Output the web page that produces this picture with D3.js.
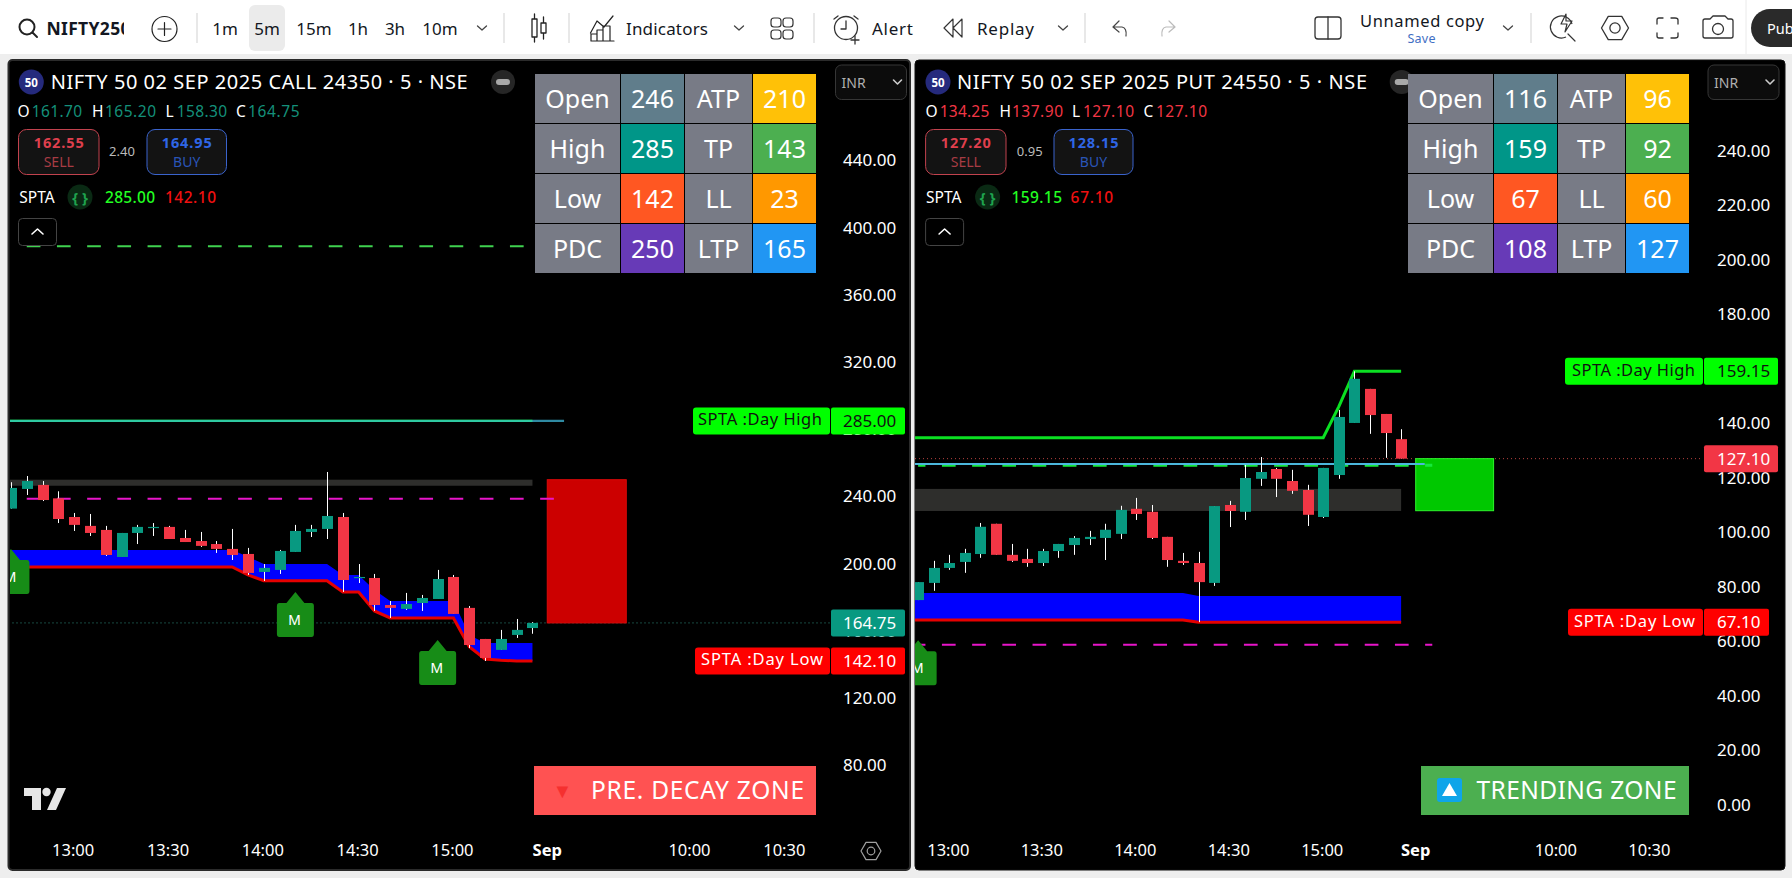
<!DOCTYPE html>
<html><head><meta charset="utf-8">
<script src="https://cdn.jsdelivr.net/npm/d3@7/dist/d3.min.js"></script>
<style>
html,body{margin:0;padding:0;background:#eeeeee;overflow:hidden}
svg{display:block}
text{font-family:"Noto Sans",sans-serif}
.tick line{display:none}
</style></head><body><svg id="c" width="1792" height="878"></svg>
<script>
// ---------- categories ----------
const sessionTimes = ["12:35","12:40","12:45","12:50","12:55","13:00","13:05","13:10","13:15","13:20","13:25","13:30","13:35","13:40","13:45","13:50","13:55","14:00","14:05","14:10","14:15","14:20","14:25","14:30","14:35","14:40","14:45","14:50","14:55","15:00","15:05","15:10","15:15","15:20","15:25"];
const nextDayTimes = ["09:15","09:20","09:25","09:30","09:35","09:40","09:45","09:50","09:55","10:00","10:05","10:10","10:15","10:20","10:25","10:30"];
const timeTicks = ["13:00","13:30","14:00","14:30","15:00","09:15","10:00","10:30"];
const timeTickLabels = ["13:00","13:30","14:00","14:30","15:00","Sep","10:00","10:30"];
const callPriceTicks = [80,120,160,200,240,280,320,360,400,440];
const putPriceTicks = [0,20,40,60,80,100,120,140,180,200,220,240];

// ---------- CALL series (12:40 to 15:25) ----------
const callOpen  = [232.8,244.5,246.9,238.9,227.8,222.5,220.1,204.0,218.3,221.5,221.9,215.3,213.5,211.7,208.8,205.8,195.1,196.3,207.0,218.9,220.7,227.8,191.7,191.5,175.4,173.1,176.6,179.0,192.1,173.7,155.2,148.7,157.6,161.7];
const callHigh  = [248.5,252.2,249.2,243.1,230.2,229.6,222.5,218.3,223.1,224.2,222.5,220.1,218.9,213.5,220.7,209.4,199.8,208.2,223.1,223.1,254.6,230.2,199.8,193.9,177.8,182.6,181.4,196.3,193.3,174.8,155.2,160.6,167.1,165.2];
const callLow   = [232.8,240.9,237.3,224.2,219.5,216.5,204.6,204.0,211.7,216.5,214.7,212.9,210.0,206.4,202.2,193.3,189.7,193.9,207.0,215.9,214.7,183.2,188.5,171.9,167.7,172.5,171.9,179.0,170.1,149.8,142.1,148.7,155.8,158.3];
const callClose = [245.1,249.2,237.9,226.6,223.1,218.3,205.2,218.3,221.9,221.9,214.7,212.9,210.6,208.8,205.2,194.5,197.5,207.6,219.5,220.7,228.4,190.3,192.1,175.4,173.7,176.0,179.6,190.9,170.1,151.6,143.9,155.2,160.6,164.75];
// bands from 12:35 to 15:25
const callBandTop = [208.2,208.2,208.2,208.2,208.2,208.2,208.2,208.2,208.2,208.2,208.2,208.2,208.2,208.2,208.2,208.2,204.2,199.8,199.8,199.8,199.8,199.8,193.3,193.3,184.4,177.8,177.8,177.8,177.8,177.8,157.6,152.8,152.8,152.8,152.8];
const callDayLow  = [198.1,198.1,198.1,198.1,198.1,198.1,198.1,198.1,198.1,198.1,198.1,198.1,198.1,198.1,198.1,198.1,193.3,189.9,189.9,189.9,189.9,189.9,183.2,183.2,171.9,167.7,167.7,167.7,167.7,167.7,150.6,143.3,142.5,142.1,142.1];
const callLevels = {dayHigh:285, upper:389, lower:238.7, bandHi:250, bandLo:246.4, boxTop:250, boxBottom:164.75, last:164.75, dayLow:142.1};
const callMarkerTimes = ["12:40","14:10","14:55"];
const callMarkerValues = [208.7,183.2,154.6];

// ---------- PUT series (12:50 to 15:25) ----------
const putOpen  = [75.2,81.5,87.0,89.2,92.1,103.2,91.8,90.3,88.8,93.2,95.4,97.6,98.0,99.5,108.7,107.6,98.4,89.6,88.8,81.5,110.1,107.6,119.7,123.3,118.9,115.6,105.7,121.1,140.2,152.7,143.5,134.25];
const putHigh  = [81.8,89.6,91.8,94.0,103.5,103.2,95.8,94.0,94.0,95.8,98.7,100.6,103.2,109.8,112.7,110.1,98.4,92.5,92.9,109.7,111.6,124.8,127.7,123.7,123.0,117.5,123.7,145.0,159.15,152.7,143.5,137.9];
const putLow   = [75.2,78.6,86.3,85.2,90.7,91.8,89.2,87.4,87.7,90.7,91.8,95.4,89.9,97.6,104.6,97.6,87.4,88.1,67.1,80.4,102.0,104.6,117.1,113.0,114.2,102.4,105.3,119.7,140.2,136.2,127.4,127.1];
const putClose = [81.8,87.0,88.8,92.5,102.1,91.8,89.6,88.8,93.2,95.8,98.0,98.4,101.0,108.3,106.8,98.0,89.9,88.8,81.8,109.7,107.9,120.0,122.2,119.7,115.3,106.5,123.7,142.4,156.4,143.1,136.5,127.1];
// bands from 12:45 to 15:25
const putBandTop = [77.8,77.8,77.8,77.8,77.8,77.8,77.8,77.8,77.8,77.8,77.8,77.8,77.8,77.8,77.8,77.8,77.8,77.8,77.8,76.7,76.7,76.7,76.7,76.7,76.7,76.7,76.7,76.7,76.7,76.7,76.7,76.7,76.7];
const putDayLow  = [67.9,67.9,67.9,67.9,67.9,67.9,67.9,67.9,67.9,67.9,67.9,67.9,67.9,67.9,67.9,67.9,67.9,67.9,67.9,67.1,67.1,67.1,67.1,67.1,67.1,67.1,67.1,67.1,67.1,67.1,67.1,67.1,67.1];
const putDayHigh = [134.8,134.8,134.8,134.8,134.8,134.8,134.8,134.8,134.8,134.8,134.8,134.8,134.8,134.8,134.8,134.8,134.8,134.8,134.8,134.8,134.8,134.8,134.8,134.8,134.8,134.8,134.8,134.8,146.2,159.15,159.15,159.15,159.15];
const putLevels = {dayHigh:159.15, upper:125.1, lower:58.8, bandHi:116, bandLo:107.9, boxTop:127.1, boxBottom:108, last:127.1, dayLow:67.1};
const putMarkerTimes = ["12:50"];
const putMarkerValues = [60.5];

// ---------- tables ----------
const tableLabels = [["Open","ATP"],["High","TP"],["Low","LL"],["PDC","LTP"]];
const callTable = [[246,210],[285,143],[142,23],[250,165]];
const putTable  = [[116,96],[159,92],[67,60],[108,127]];
const tableColors = [["#607d8b","#ffc107"],["#009688","#4caf50"],["#ff5722","#ff9800"],["#673ab7","#2196f3"]];

// ---------- drawing ----------
const GREEN="#089981", RED="#f23645";
const svg=d3.select("#c");
function txt(g,x,y,s,o={}){
  const t=g.append("text").attr("x",x).attr("y",y).text(s)
    .attr("font-size",o.size||15).attr("fill",o.fill||"#fff")
    .attr("font-weight",o.weight||400).attr("text-anchor",o.anchor||"start");
  if(o.len) t.attr("textLength",o.len).attr("lengthAdjust","spacing");
  return t;
}
function strokeP(g,d,o={}){
  return g.append("path").attr("d",d).attr("fill",o.fill||"none")
    .attr("stroke",o.stroke||"#222").attr("stroke-width",o.w||1.5)
    .attr("stroke-linecap","round").attr("stroke-linejoin","round");
}
function hexagon(g,cx,cy,r,stroke,w){
  const pts=d3.range(6).map(i=>[cx+r*Math.cos(i*Math.PI/3),cy+r*Math.sin(i*Math.PI/3)]);
  strokeP(g,"M"+pts.join("L")+"Z",{stroke,w});
  g.append("circle").attr("cx",cx).attr("cy",cy).attr("r",r*0.38).attr("fill","none").attr("stroke",stroke).attr("stroke-width",w);
}

// toolbar
const tb=svg.append("g");
tb.append("rect").attr("width",1792).attr("height",54).attr("fill","#fff");
const sep=x=>tb.append("line").attr("x1",x).attr("x2",x).attr("y1",13).attr("y2",43).attr("stroke","#e0e0e0").attr("stroke-width",1.5);
[197,504,569,814,1085,1531].forEach(sep);
tb.append("line").attr("x1",1746).attr("x2",1746).attr("y1",0).attr("y2",54).attr("stroke","#eaeaea");
tb.append("circle").attr("cx",27).attr("cy",27).attr("r",7.5).attr("fill","none").attr("stroke","#222").attr("stroke-width",2);
strokeP(tb,"M32.5 32.5L37 37",{w:2});
tb.append("clipPath").attr("id","symclip").append("rect").attr("x",40).attr("y",0).attr("width",84).attr("height",54);
txt(tb,46.5,35,"NIFTY250",{size:17.5,weight:700,fill:"#131722",len:84}).attr("clip-path","url(#symclip)");
tb.append("circle").attr("cx",164.5).attr("cy",29).attr("r",12.5).attr("fill","none").attr("stroke","#222").attr("stroke-width",1.2);
strokeP(tb,"M164.5 22.5V35.5M158 29H171",{w:1.2});
tb.append("rect").attr("x",249).attr("y",5).attr("width",36).attr("height",46).attr("rx",6).attr("fill","#ebebeb");
[["1m",225],["5m",267],["15m",314],["1h",358],["3h",395],["10m",440]].forEach(d=>txt(tb,d[1],35,d[0],{size:17,anchor:"middle",fill:"#131722"}));
const caret=(x,y,c="#444",s=4.5)=>strokeP(tb,`M${x-s} ${y-2}L${x} ${y+2}L${x+s} ${y-2}`,{stroke:c,w:1.3});
caret(482,28); caret(739,28); caret(1063,28); caret(1508,28);
// candle icon
strokeP(tb,"M532 19h5v18h-5zM534.5 14v5M534.5 37v5M541 23h5v10h-5zM543.5 17v6M543.5 33v6",{w:1.3});
// indicators icon
strokeP(tb,"M590.5 33L597 21L604 27L613 16M591 41V34h6v7zM597 41V30h6v11zM603 41V26h7v15zM591 41H614",{w:1.2});
txt(tb,626,35,"Indicators",{size:17,fill:"#131722",len:82});
// templates
[[771,18],[783,18],[771,30],[783,30]].forEach(d=>tb.append("rect").attr("x",d[0]).attr("y",d[1]).attr("width",10).attr("height",9).attr("rx",3).attr("fill","none").attr("stroke","#333").attr("stroke-width",1.2));
// alert
tb.append("circle").attr("cx",846).attr("cy",28).attr("r",11.5).attr("fill","none").attr("stroke","#333").attr("stroke-width",1.3);
strokeP(tb,"M846 21V29H841M834 19L838 16M858 19L854 16M855 36V44M851 40H859",{w:1.3,stroke:"#333"});
txt(tb,872,35,"Alert",{size:17,fill:"#131722",len:41});
// replay
strokeP(tb,"M953 19L944 28L953 37ZM962 19L953 28L962 37Z",{w:1.2,stroke:"#333"});
txt(tb,977,35,"Replay",{size:17,fill:"#131722",len:57});
// undo redo
strokeP(tb,"M1113 27L1119 21M1113 27L1119 32M1113 27H1122Q1127 28 1126 36",{w:1.2,stroke:"#444"});
strokeP(tb,"M1175 27L1169 21M1175 27L1169 32M1175 27H1166Q1161 28 1162 36",{w:1.2,stroke:"#bbb"});
// layout
tb.append("rect").attr("x",1315).attr("y",17).attr("width",26).attr("height",22).attr("rx",3).attr("fill","none").attr("stroke","#333").attr("stroke-width",1.3);
strokeP(tb,"M1328 17V39",{stroke:"#333",w:1.3});
txt(tb,1360,27,"Unnamed copy",{size:16.5,fill:"#131722",len:124});
txt(tb,1421.5,43,"Save",{size:12.5,fill:"#3f6fc4",anchor:"middle",len:28});
// lightning + magnifier
tb.append("path").attr("d","M1572 24A11 11 0 1 0 1566 37").attr("fill","none").attr("stroke","#333").attr("stroke-width",1.2);
strokeP(tb,"M1566 14L1561 24H1567L1565 32L1572 21H1566ZM1568 34L1575 41",{w:1.2,stroke:"#333"});
hexagon(tb,1615,28,13.5,"#333",1.3);
// fullscreen
strokeP(tb,"M1657 24V20Q1657 18 1659 18H1663M1671 18H1675Q1678 18 1678 20V24M1678 33V36Q1678 38 1675 38H1671M1663 38H1659Q1657 38 1657 36V33",{stroke:"#333",w:1.3});
// camera
strokeP(tb,"M1705 19h5l3-3h12l3 3h3q2 0 2 2v15q0 2-2 2h-26q-2 0-2-2v-15q0-2 2-2z",{stroke:"#333",w:1.3});
tb.append("circle").attr("cx",1718).attr("cy",29).attr("r",5.5).attr("fill","none").attr("stroke","#333").attr("stroke-width",1.3);
tb.append("rect").attr("x",1751).attr("y",9).attr("width",80).attr("height",38).attr("rx",19).attr("fill","#2a2a2a");
txt(tb,1767,34,"Pub",{size:14.5,fill:"#fff"});

// one pane
function drawPane(cfg){
  const p=svg.append("g");
  const L=cfg.left,R=cfg.right,plotR=cfg.plotRight,id=cfg.id;
  p.append("rect").attr("x",L).attr("y",60).attr("width",R-L).attr("height",810).attr("rx",4).attr("fill","#000").attr("stroke",cfg.border).attr("stroke-width",cfg.borderW);
  p.append("clipPath").attr("id",id).append("rect").attr("x",L+cfg.clipInset).attr("y",61).attr("width",plotR-L-cfg.clipInset).attr("height",808);
  const plot=p.append("g").attr("clip-path",`url(#${id})`);

  const slots=cfg.times.concat(nextDayTimes);
  const x=d3.scalePoint().domain(slots).range(cfg.xRange);
  const y=d3.scaleLinear().domain(cfg.yDomain).range(cfg.yRange);
  const times=cfg.times, lv=cfg.levels;
  const candleTimes=times.slice(times.length-cfg.open.length);
  const line=d3.line().x((d,i)=>x(times[i])).y(d=>y(d));
  const area=d3.area().x((d,i)=>x(times[i])).y0((d,i)=>y(cfg.dayLow[i])).y1(d=>y(d));
  const lastSlot=times[times.length-1];

  // last-price dotted
  plot.append("line").attr("x1",L).attr("x2",plotR).attr("y1",y(lv.last)).attr("y2",y(lv.last))
    .attr("stroke",cfg.lastColor).attr("stroke-width",1).attr("stroke-dasharray","1 3");
  // grey zone
  plot.append("rect").attr("x",L).attr("width",x(lastSlot)-L)
    .attr("y",y(lv.bandHi)).attr("height",y(lv.bandLo)-y(lv.bandHi)).attr("fill","#2e2e2c");
  // zone box
  plot.append("rect").attr("x",x("09:15")-1).attr("width",x("09:40")-x("09:15"))
    .attr("y",y(lv.boxTop)).attr("height",y(lv.boxBottom)-y(lv.boxTop))
    .attr("fill",cfg.boxFill).attr("stroke",cfg.boxStroke).attr("stroke-width",1);
  // blue band and day low
  plot.append("path").attr("d",area(cfg.bandTop)).attr("fill","#0000ff");
  plot.append("path").attr("d",line(cfg.dayLow)).attr("fill","none").attr("stroke","#e60000").attr("stroke-width",3);

  // dashed levels
  const dash=(v,c,w,x1)=>plot.append("line").attr("x1",x1).attr("x2",x("09:20")).attr("y1",y(v)).attr("y2",y(v))
      .attr("stroke",c).attr("stroke-width",w).attr("stroke-dasharray","13.7 16.5").attr("stroke-dashoffset",cfg.dashOffset);
  if(id==="callClip"){
    dash(lv.upper,"#3fd24f",2,x("12:45"));
    dash(lv.lower,"#e815c9",2,x("12:45"));
    plot.append("line").attr("x1",L).attr("x2",x(lastSlot)).attr("y1",y(lv.dayHigh)).attr("y2",y(lv.dayHigh)).attr("stroke","#00ff00").attr("stroke-width",2.4);
    plot.append("line").attr("x1",L).attr("x2",x("09:20")).attr("y1",y(lv.dayHigh)).attr("y2",y(lv.dayHigh)).attr("stroke","#3fb8d8").attr("stroke-width",2.4).attr("stroke-opacity",.75);
  } else {
    dash(lv.lower,"#e815c9",2,x("12:50"));
    dash(lv.upper-0.4,"#16e83c",3,x("12:50"));
    plot.append("line").attr("x1",L).attr("x2",x("09:15")+8).attr("y1",y(lv.upper)).attr("y2",y(lv.upper)).attr("stroke","#4bb7dc").attr("stroke-width",2);
    plot.append("path").attr("d",line(cfg.dayHigh)).attr("fill","none").attr("stroke","#0be022").attr("stroke-width",3);
  }

  // candles
  const bw=11;
  const cg=plot.selectAll("g.c").data(cfg.open.map((o,i)=>({t:candleTimes[i],o,h:cfg.high[i],l:cfg.low[i],c:cfg.close[i]}))).join("g");
  cg.append("line").attr("x1",d=>Math.round(x(d.t))+.5).attr("x2",d=>Math.round(x(d.t))+.5)
    .attr("y1",d=>y(d.h)).attr("y2",d=>y(d.l)).attr("stroke","#fff").attr("stroke-width",1);
  cg.append("rect").attr("x",d=>Math.round(x(d.t))+.5-bw/2).attr("width",bw)
    .attr("y",d=>y(Math.max(d.o,d.c))).attr("height",d=>Math.max(1.2,Math.abs(y(d.o)-y(d.c))))
    .attr("fill",d=>d.c>=d.o?GREEN:RED);

  // markers
  cfg.markerTimes.forEach((t,i)=>{
    const cx=x(t),top=y(cfg.markerValues[i]);
    const d=d3.path();
    d.moveTo(cx,top);d.lineTo(cx+9,top+11);d.lineTo(cx+16,top+11);d.quadraticCurveTo(cx+18.5,top+11,cx+18.5,top+14);
    d.lineTo(cx+18.5,top+42);d.quadraticCurveTo(cx+18.5,top+45,cx+16,top+45);d.lineTo(cx-16,top+45);
    d.quadraticCurveTo(cx-18.5,top+45,cx-18.5,top+42);d.lineTo(cx-18.5,top+14);d.quadraticCurveTo(cx-18.5,top+11,cx-16,top+11);d.lineTo(cx-9,top+11);d.closePath();
    plot.append("path").attr("d",d.toString()).attr("fill","#178c17");
    txt(plot,cx-1,top+33,"M",{size:15,anchor:"middle",fill:"#fff"}).style("font-family",'"Liberation Sans",sans-serif');
  });

  // price axis
  const ax=d3.axisRight(y).tickValues(cfg.yTicks).tickSize(0).tickPadding(0).tickFormat(d3.format(".2f"));
  const axG=p.append("g").attr("transform",`translate(${cfg.axisX},0)`).call(ax);
  axG.select(".domain").remove();
  axG.selectAll("text").attr("font-size",17).attr("fill","#fff").attr("font-family",'"Noto Sans",sans-serif');

  // time axis
  const tf=d3.scaleOrdinal().domain(timeTicks).range(timeTickLabels);
  const bx=d3.axisBottom(x).tickValues(timeTicks).tickSize(0).tickPadding(0).tickFormat(d=>tf(d));
  const bxG=p.append("g").attr("transform","translate(-1.5,844)").call(bx);
  bxG.select(".domain").remove();
  bxG.selectAll("text").attr("font-size",16.5).attr("fill","#fff").attr("font-family",'"Noto Sans",sans-serif')
     .attr("font-weight",d=>d==="09:15"?700:400);

  // tags
  const tag=(v,x0,x1,fill,label,tc,tx,tl,valEnd)=>{
    const yy=y(v);
    if(label!==null){
      p.append("rect").attr("x",x0).attr("y",yy-13.5).attr("width",x1-x0).attr("height",27).attr("rx",3).attr("fill",fill);
      txt(p,tx,yy+4.5,label,{size:16.5,fill:tc,len:tl});
    }
    p.append("rect").attr("x",x1+1).attr("y",yy-13.5).attr("width",valEnd-x1-1).attr("height",27).attr("rx",2).attr("fill",fill);
    txt(p,cfg.axisX,yy+6,d3.format(".2f")(v),{size:17,fill:tc});
  };
  cfg.tags.forEach(t=>tag(lv[t.k],t.x0,t.x1,t.fill,t.label,t.tc,t.tx,t.tl,t.end));

  // header
  const lg=cfg.legend;
  p.append("circle").attr("cx",lg.logo).attr("cy",82).attr("r",12.5).attr("fill","#252a7d");
  txt(p,lg.logo,86.5,"50",{size:11.5,weight:700,anchor:"middle"});
  txt(p,lg.titleX,89,cfg.title,{size:20,len:lg.titleLen});
  p.append("circle").attr("cx",lg.pill).attr("cy",82).attr("r",12).attr("fill","#262626");
  p.append("rect").attr("x",lg.pill-7).attr("y",79).attr("width",14).attr("height",6).attr("rx",3).attr("fill","#a9a9a9");
  lg.ohlc.forEach(d=>{txt(p,d[0],116.5,d[1],{size:15.5,fill:"#fff"});txt(p,d[2],116.5,d[3],{size:15.5,fill:cfg.ohlcColor,len:d[4]});});
  const box=(x0,x1,st,col,col2,v,lab)=>{
    p.append("rect").attr("x",x0).attr("y",129.5).attr("width",x1-x0).attr("height",45).attr("rx",8).attr("fill","#131313").attr("stroke",st).attr("stroke-width",1);
    txt(p,(x0+x1)/2,148,v,{size:14.5,weight:700,fill:col,anchor:"middle",len:50});
    txt(p,(x0+x1)/2,167,lab,{size:14,fill:col2,anchor:"middle"});
  };
  box(lg.sell[0],lg.sell[1],"#c2424e","#df3f4d","#a83c44",lg.sellV,"SELL");
  box(lg.buy[0],lg.buy[1],"#3a63cc","#2f66e6","#2a55b8",lg.buyV,"BUY");
  txt(p,lg.spread[0],156,lg.spread[1],{size:13,fill:"#bbb",anchor:"middle"});
  txt(p,lg.spta,203,"SPTA",{size:15.5});
  p.append("circle").attr("cx",lg.icon).attr("cy",197).attr("r",12.5).attr("fill","#0a2a14");
  txt(p,lg.icon,203,"{ }",{size:15,fill:"#1fa34e",anchor:"middle",weight:700});
  txt(p,lg.hi[0],203,lg.hi[1],{size:15.5,fill:"#22ff22",weight:500,len:lg.hi[2]});
  txt(p,lg.lo[0],203,lg.lo[1],{size:15.5,fill:"#f01010",weight:500,len:lg.lo[2]});
  p.append("rect").attr("x",lg.btn).attr("y",218.5).attr("width",38).attr("height",27).attr("rx",4).attr("fill","#000").attr("stroke","#444");
  strokeP(p,`M${lg.btn+13.5} 234L${lg.btn+19} 229L${lg.btn+24.5} 234`,{stroke:"#fff",w:1.6});

  // INR
  p.append("rect").attr("x",cfg.inr).attr("y",65).attr("width",71).attr("height",34.5).attr("rx",6).attr("fill","#0c0c0c").attr("stroke","#363636");
  txt(p,cfg.inr+6,88,"INR",{size:14,fill:"#b0b0b0"});
  strokeP(p,`M${cfg.inr+58} 80L${cfg.inr+62} 84L${cfg.inr+66} 80`,{stroke:"#ccc",w:1.6});

  // table
  cfg.tableCols.forEach((c,ci)=>{
    tableLabels.forEach((row,ri)=>{
      const yy=74+ri*50, col=Math.floor(ci/2), isVal=ci%2===1;
      const fill=isVal?tableColors[ri][col]:"#787b86";
      p.append("rect").attr("x",c[0]).attr("y",yy).attr("width",c[1]-c[0]).attr("height",49).attr("fill",fill);
      txt(p,(c[0]+c[1])/2,yy+34,isVal?cfg.table[ri][col]:row[col],{size:25,anchor:"middle"});
    });
  });

  // zone banner
  const z=cfg.zone;
  p.append("rect").attr("x",z.x0).attr("y",766).attr("width",z.x1-z.x0).attr("height",49).attr("fill",z.fill);
  txt(p,z.tx,799,z.text,{size:24.5,len:z.tl});
  return {p,x,y};
}

const call=drawPane({
  id:"callClip",left:8.5,right:910,plotRight:830,border:"#2b2b2b",borderW:2,clipInset:1.5,times:sessionTimes,xRange:[-4.85,785.3],
  yDomain:[440,80],yRange:[160.5,765.3],yTicks:callPriceTicks,axisX:843,
  open:callOpen,high:callHigh,low:callLow,close:callClose,bandTop:callBandTop,dayLow:callDayLow,levels:callLevels,
  markerTimes:callMarkerTimes,markerValues:callMarkerValues,lastColor:"#2f8f7f",boxFill:"#cc0000",boxStroke:"#dd0808",dashOffset:0,
  tags:[{k:"dayHigh",x0:693,x1:830,fill:"#00ff00",label:"SPTA :Day High",tc:"#111",tx:698,tl:124,end:905},
        {k:"dayLow",x0:695,x1:830,fill:"#ff0000",label:"SPTA :Day Low",tc:"#fff",tx:701,tl:122,end:905},
        {k:"last",x0:0,x1:830,fill:GREEN,label:null,tc:"#fff",end:905}],
  title:"NIFTY 50 02 SEP 2025 CALL 24350 · 5 · NSE",ohlcColor:"#14907a",
  legend:{logo:31.3,titleX:50.7,titleLen:417,pill:503,
    ohlc:[[17.5,"O",31.7,"161.70",50.5],[92,"H",105,"165.20",51],[165.5,"L",176.7,"158.30",50.5],[236,"C",248,"164.75",51.5]],
    sell:[18.5,99],buy:[147,226.5],sellV:"162.55",buyV:"164.95",spread:[122,"2.40"],
    spta:19.3,icon:80,hi:[105,"285.00",50],lo:[165,"142.10",51],btn:18.5},
  inr:835.5,table:callTable,tableCols:[[535,620],[621,684],[685,752],[753,816]],
  zone:{x0:534,x1:816,fill:"#ff5252",tx:591,tl:213,text:"PRE. DECAY ZONE"}
});
txt(call.p,562.5,798,"▼",{size:20,fill:"#f5302f",anchor:"middle"});
// TradingView mark
const tv=call.p.append("g").attr("fill","#e6e6e6");
tv.append("path").attr("d","M24 788H41V810H32V796H24Z");
tv.append("circle").attr("cx",46.5).attr("cy",792).attr("r",4.2);
tv.append("path").attr("d","M57 788H66L56 810H47Z");
hexagon(call.p,871,851,10,"#a0a0a0",1.2);

const put=drawPane({
  id:"putClip",left:915,right:1785,plotRight:1703,border:"#111",borderW:1,clipInset:0,times:sessionTimes.slice(2),xRange:[902.56,1650.4],
  yDomain:[240,0],yRange:[151,805],yTicks:putPriceTicks,axisX:1717,
  open:putOpen,high:putHigh,low:putLow,close:putClose,bandTop:putBandTop,dayLow:putDayLow,dayHigh:putDayHigh,levels:putLevels,
  markerTimes:putMarkerTimes,markerValues:putMarkerValues,lastColor:"#b8403f",boxFill:"#00c800",boxStroke:"#2cf52c",dashOffset:6.4,
  tags:[{k:"dayHigh",x0:1565,x1:1703,fill:"#00ff00",label:"SPTA :Day High",tc:"#111",tx:1572,tl:123,end:1778},
        {k:"dayLow",x0:1568,x1:1703,fill:"#ff0000",label:"SPTA :Day Low",tc:"#fff",tx:1574,tl:121,end:1769},
        {k:"last",x0:0,x1:1703,fill:RED,label:null,tc:"#fff",end:1778}],
  title:"NIFTY 50 02 SEP 2025 PUT 24550 · 5 · NSE",ohlcColor:"#f23645",
  legend:{logo:938,titleX:957,titleLen:410,pill:1401.7,
    ohlc:[[925.6,"O",939.8,"134.25",49.5],[999.5,"H",1012,"137.90",51],[1072,"L",1083,"127.10",51],[1143.5,"C",1156,"127.10",51]],
    sell:[925.6,1006],buy:[1054,1133],sellV:"127.20",buyV:"128.15",spread:[1029.7,"0.95"],
    spta:926,icon:987.6,hi:[1011.5,"159.15",50.5],lo:[1070.6,"67.10",42.5],btn:925.6},
  inr:1708,table:putTable,tableCols:[[1408,1493],[1494,1557],[1558,1625],[1626,1689]],
  zone:{x0:1421,x1:1689,fill:"#4caf50",tx:1476.5,tl:200,text:"TRENDING ZONE"}
});
put.p.append("rect").attr("x",1437).attr("y",778).attr("width",25).attr("height",24).attr("rx",3).attr("fill","#0ea5e9");
put.p.append("path").attr("d","M1449.5 783L1457 796H1442Z").attr("fill","#fff");
</script></body></html>
